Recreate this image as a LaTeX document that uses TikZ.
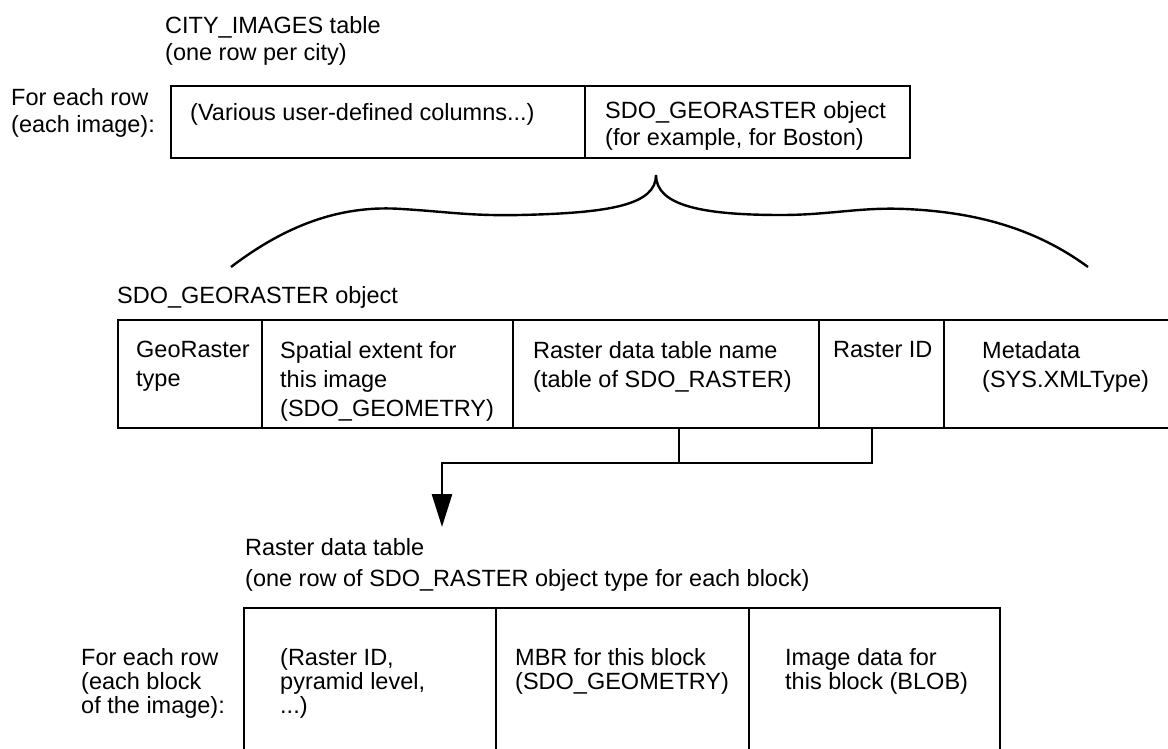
\documentclass[tikz,border=0pt]{standalone}
\usepackage{fontspec}
\setmainfont{Liberation Sans}
\usetikzlibrary{positioning,arrows.meta}

\tikzset{
  cell/.style={draw, line width=2.8pt, inner sep=0pt, outer sep=0pt, anchor=north west},
  txt/.style={anchor=north west, align=left, inner sep=0pt, font=\fontsize{23.5}{27}\selectfont},
  midtxt/.style={txt, font=\fontsize{23.5}{29}\selectfont},
  lowtxt/.style={txt, font=\fontsize{23.5}{24}\selectfont},
  link/.style={line width=2.8pt},
}

\begin{document}
\begin{tikzpicture}[x=1pt,y=-1pt,node distance=0pt]
	\path[use as bounding box] (0,0) rectangle (1168,749);
	\clip (0,0) rectangle (1168,749);
	% CITY_IMAGES table
	\node[txt] (citytitle) at (165,16) {CITY\_IMAGES table\\(one row per city)};
	\node[txt] (cityrow) at (11,88) {For each row\\(each image):};
	\node[cell, minimum width=414pt, minimum height=72pt] (usercols) at (171,86) {};
	\node[cell, minimum width=325pt, minimum height=72pt, right=of usercols] (georef) {};
	\node[txt, below right=17pt and 19pt of usercols.north west] (usertxt) {(Various user-defined columns...)};
	\node[txt, below right=15pt and 20pt of georef.north west] (georeftxt) {SDO\_GEORASTER object\\(for example, for Boston)};
	% brace
	\coordinate (cusp) at (656,175);
	\draw[line width=2.4pt] (231,267) .. controls (290,222) and (345,205) .. (402,209)
		.. controls (450,212) and (470,216) .. (520,215)
		.. controls (610,213) and (656,205) .. (cusp)
		.. controls (656,205) and (700,215) .. (781,215)
		.. controls (830,215) and (860,207) .. (905,209)
		.. controls (975,212) and (1035,228) .. (1088,267);
	% SDO_GEORASTER object
	\node[txt] (geolabel) at (117,286) {SDO\_GEORASTER object};
	\node[cell, minimum width=144pt, minimum height=108pt] (gtype) at (118,320) {};
	\node[cell, minimum width=251pt, minimum height=108pt, right=of gtype] (extent) {};
	\node[cell, minimum width=306pt, minimum height=108pt, right=of extent] (rtname) {};
	\node[cell, minimum width=125pt, minimum height=108pt, right=of rtname] (rid) {};
	\node[cell, minimum width=231pt, minimum height=108pt, right=of rid] (meta) {};
	\node[midtxt, below right=21pt and 18pt of gtype.north west] (gtypetxt) {GeoRaster\\type};
	\node[midtxt, below right=21pt and 18pt of extent.north west] (extenttxt) {Spatial extent for\\this image\\(SDO\_GEOMETRY)};
	\node[midtxt, below right=21pt and 20pt of rtname.north west] (rtnametxt) {Raster data table name\\(table of SDO\_RASTER)};
	\node[midtxt, below right=21pt and 14pt of rid.north west] (ridtxt) {Raster ID};
	\node[midtxt, below right=21pt and 38pt of meta.north west] (metatxt) {Metadata\\(SYS.XMLType)};
	% Raster data table
	\node[txt, font=\fontsize{23.5}{31}\selectfont] (rdtlabel) at (245,538) {Raster data table\\(one row of SDO\_RASTER object type for each block)};
	\node[lowtxt] (blockrow) at (81,648) {For each row\\(each block\\of the image):};
	\node[cell, minimum width=252pt, minimum height=162pt] (blkid) at (244,608) {};
	\node[cell, minimum width=253pt, minimum height=162pt, right=of blkid] (mbr) {};
	\node[cell, minimum width=251pt, minimum height=162pt, right=of mbr] (blob) {};
	\node[lowtxt, below right=40pt and 36pt of blkid.north west] (blkidtxt) {(Raster ID,\\pyramid level,\\...)};
	\node[lowtxt, below right=40pt and 19pt of mbr.north west] (mbrtxt) {MBR for this block\\(SDO\_GEOMETRY)};
	\node[lowtxt, below right=40pt and 36pt of blob.north west] (blobtxt) {Image data for\\this block (BLOB)};
	% connectors
	\coordinate (bend) at (442,463);
	\draw[link] ([xshift=13pt]rtname.south) -- ([xshift=13pt]rtname.south |- bend);
	\draw[link, -{Triangle[width=20pt,length=33pt]}] ([xshift=-9.5pt]rid.south) |- (bend) -- ([yshift=11pt]bend |- rdtlabel.north);
\end{tikzpicture}
\end{document}
